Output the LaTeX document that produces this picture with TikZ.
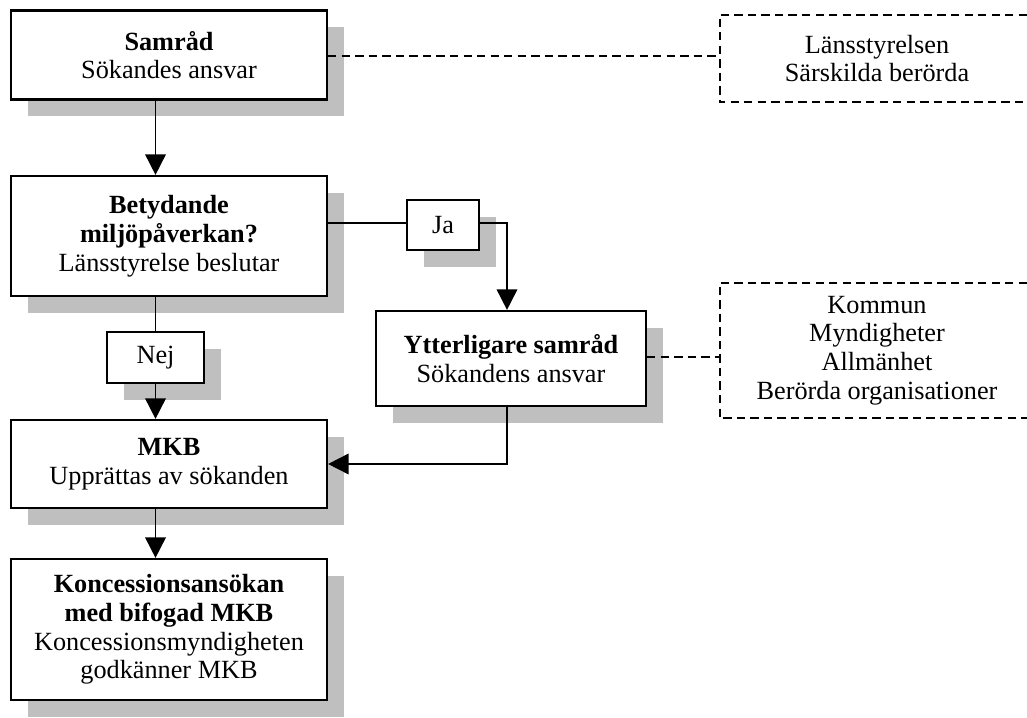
\documentclass[tikz,border=0pt]{standalone}
\usepackage{fontspec}
\setmainfont{Liberation Serif}
\usetikzlibrary{arrows.meta,shadows}
\begin{document}
\begin{tikzpicture}[x=0.48pt,y=-0.48pt,
  every node/.style={font=\fontsize{12.6pt}{13.8pt}\selectfont, align=center, inner sep=0pt},
  stepbox/.style={draw, line width=1.05pt, fill=white,
    general shadow={fill=black!25, shadow xshift=8pt, shadow yshift=-8pt}},
  infobox/.style={minimum width=150.72pt},
  dashline/.style={line width=0.95pt, dash pattern=on 4pt off 2.5pt},
  link/.style={line width=0.85pt},
  arrow/.style={link, -{Triangle[length=9.8pt,width=9.8pt]}}]
\useasboundingbox (0,0) rectangle (1027,717);

% main steps
\node[stepbox, minimum width=151.68pt, minimum height=42.72pt] (samrad) at (169,55)
  {\textbf{Samråd}\\Sökandes ansvar};
\node[stepbox, minimum width=151.68pt, minimum height=57.6pt] (betyd) at (169,236)
  {\textbf{Betydande}\\\textbf{miljöpåverkan?}\\Länsstyrelse beslutar};
\node[stepbox, minimum width=34.56pt, minimum height=24pt] (ja) at (443,225) {Ja};
\node[stepbox, minimum width=129.6pt, minimum height=45.6pt] (ytter) at (511,358.5)
  {\textbf{Ytterligare samråd}\\Sökandens ansvar};
\node[stepbox, minimum width=46.56pt, minimum height=24.48pt] (nej) at (155.5,357.5) {Nej};
\node[stepbox, minimum width=151.68pt, minimum height=42.24pt] (mkb) at (169,464)
  {\textbf{MKB}\\Upprättas av sökanden};
\node[stepbox, minimum width=151.68pt, minimum height=67.68pt] (kons) at (169,629.5)
  {\textbf{Koncessionsansökan}\\\textbf{med bifogad MKB}\\Koncessionsmyndigheten\\godkänner MKB};

% parties consulted (open towards the right edge)
\node[infobox, minimum height=41.76pt] (parter1) at (877,58.5)
  {Länsstyrelsen\\Särskilda berörda};
\node[infobox, minimum height=64.8pt] (parter2) at (877,350.5)
  {Kommun\\Myndigheter\\Allmänhet\\Berörda organisationer};
\coordinate (edge) at (1027,0);
\coordinate (jaturn) at (507,223);
\coordinate (dash1) at (0,56);
\coordinate (dash2) at (0,357);

\draw[dashline] (parter1.north west -| edge) -- (parter1.north west)
  -- (parter1.south west) -- (parter1.south west -| edge);
\draw[dashline] (parter2.north west -| edge) -- (parter2.north west)
  -- (parter2.south west) -- (parter2.south west -| edge);

% connectors
\draw[arrow] (samrad.south -| nej.north) -- (betyd.north -| nej.north);
\draw[link] (betyd.south -| nej.north) -- (nej.north);
\draw[arrow] (nej.south) -- (mkb.north -| nej.south);
\draw[arrow] (mkb.south -| nej.south) -- (kons.north -| nej.south);
\draw[link] (betyd.east |- jaturn) -- (ja.west |- jaturn);
\draw[arrow] (ja.east |- jaturn) -- (jaturn) -- (ytter.north -| jaturn);
\draw[arrow] (ytter.south -| jaturn) |- (mkb.east);
\draw[dashline] (samrad.east |- dash1) -- (parter1.west |- dash1);
\draw[dashline] (ytter.east |- dash2) -- (parter2.west |- dash2);
\end{tikzpicture}
\end{document}
